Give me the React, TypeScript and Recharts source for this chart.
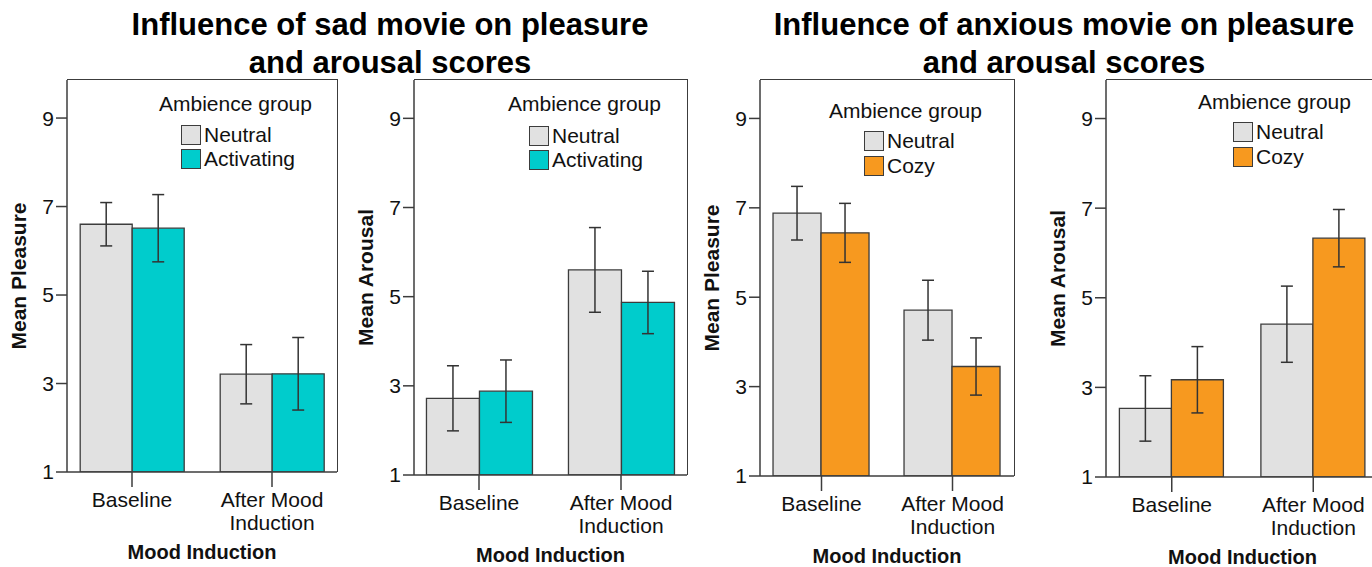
import React from 'react';
import { BarChart, Bar, XAxis, YAxis, ErrorBar, Legend, Text } from 'recharts';

// ---------- data ----------
const categories = ['Baseline', 'After Mood Induction'];
const yTicks = [1, 3, 5, 7, 9];
const seriesOrder = ['neutral', 'group'];

const sadPleasureNeutral = [6.6, 3.21];
const sadPleasureNeutralErr = [0.49, 0.67];
const sadPleasureActivating = [6.51, 3.22];
const sadPleasureActivatingErr = [0.76, 0.82];

const sadArousalNeutral = [2.72, 5.6];
const sadArousalNeutralErr = [0.73, 0.95];
const sadArousalActivating = [2.88, 4.87];
const sadArousalActivatingErr = [0.7, 0.7];

const anxPleasureNeutral = [6.88, 4.71];
const anxPleasureNeutralErr = [0.6, 0.67];
const anxPleasureCozy = [6.44, 3.45];
const anxPleasureCozyErr = [0.66, 0.64];

const anxArousalNeutral = [2.53, 4.41];
const anxArousalNeutralErr = [0.73, 0.85];
const anxArousalCozy = [3.17, 6.33];
const anxArousalCozyErr = [0.74, 0.64];

const legendTitle = 'Ambience group';
const xLabel = 'Mood Induction';
const titleSad = ['Influence of sad movie on pleasure', 'and arousal scores'];
const titleAnx = ['Influence of anxious movie on pleasure', 'and arousal scores'];

// ---------- style ----------
const FONT = '"Liberation Sans", Arial, Helvetica, sans-serif';
const GREY = '#e1e1e1';
const TEAL = '#00cccc';
const ORANGE = '#f7991f';
const LINE = '#3c3c3c';
const TEXT = '#111';

function buildRows(n: number[], ne: number[], g: number[], ge: number[]) {
  return categories.map((c, i) => ({
    category: c,
    neutral: n[i],
    neutralErr: ne[i],
    group: g[i],
    groupErr: ge[i],
  }));
}

const panels = [
  {
    key: 'p1', frameLeft: 67, frameWidth: 270, frameBottom: 472, padL: -5, padR: -5,
    yLabel: 'Mean Pleasure', groupName: 'Activating', groupColor: TEAL,
    rows: buildRows(sadPleasureNeutral, sadPleasureNeutralErr, sadPleasureActivating, sadPleasureActivatingErr),
    legend: { left: 162, top: 92, indent: 22, rowTop: 33, rowGap: 24 },
  },
  {
    key: 'p2', frameLeft: 414, frameWidth: 273, frameBottom: 475, padL: -6, padR: -5,
    yLabel: 'Mean Arousal', groupName: 'Activating', groupColor: TEAL,
    rows: buildRows(sadArousalNeutral, sadArousalNeutralErr, sadArousalActivating, sadArousalActivatingErr),
    legend: { left: 164, top: 92, indent: 21, rowTop: 34, rowGap: 24 },
  },
  {
    key: 'p3', frameLeft: 760, frameWidth: 254, frameBottom: 476, padL: -4, padR: -4,
    yLabel: 'Mean Pleasure', groupName: 'Cozy', groupColor: ORANGE,
    rows: buildRows(anxPleasureNeutral, anxPleasureNeutralErr, anxPleasureCozy, anxPleasureCozyErr),
    legend: { left: 139, top: 99, indent: 35, rowTop: 32, rowGap: 25 },
  },
  {
    key: 'p4', frameLeft: 1106, frameWidth: 273, frameBottom: 477, padL: -5, padR: -5,
    yLabel: 'Mean Arousal', groupName: 'Cozy', groupColor: ORANGE,
    rows: buildRows(anxArousalNeutral, anxArousalNeutralErr, anxArousalCozy, anxArousalCozyErr),
    legend: { left: 162, top: 90, indent: 35, rowTop: 32, rowGap: 25 },
  },
];

function XTick(props: any) {
  const { x, y, payload } = props;
  return (
    <Text
      x={x}
      y={y}
      width={135}
      textAnchor="middle"
      verticalAnchor="start"
      lineHeight="1.1em"
      fontSize={21}
      fontFamily={FONT}
      fill={TEXT}
    >
      {payload.value}
    </Text>
  );
}

function YLabel(props: any) {
  const { viewBox, value } = props;
  const cx = viewBox.x + viewBox.width - 48;
  const cy = viewBox.y + viewBox.height / 2;
  return (
    <text
      x={cx}
      y={cy}
      dy="0.35em"
      transform={`rotate(-90 ${cx} ${cy})`}
      textAnchor="middle"
      fontWeight="bold"
      fontSize={21}
      fontFamily={FONT}
      fill={TEXT}
    >
      {value}
    </text>
  );
}

function XLabel(props: any) {
  const { viewBox, value } = props;
  const cx = viewBox.x + viewBox.width / 2;
  const cy = viewBox.y + 80;
  return (
    <text x={cx} y={cy} dy="0.35em" textAnchor="middle" fontWeight="bold" fontSize={20} fontFamily={FONT} fill={TEXT}>
      {value}
    </text>
  );
}

function makeLegend(cfg: any) {
  return function LegendContent(props: any) {
    const payload = [...(props.payload || [])].sort(
      (a: any, b: any) => seriesOrder.indexOf(a.dataKey) - seriesOrder.indexOf(b.dataKey)
    );
    return (
      <div style={{ position: 'relative', width: 230, height: 90, fontFamily: FONT, fontSize: 21, color: TEXT }}>
        <div style={{ position: 'absolute', left: 0, top: 0, lineHeight: '24px', whiteSpace: 'nowrap' }}>{legendTitle}</div>
        {payload.map((p: any, i: number) => (
          <div
            key={i}
            style={{
              position: 'absolute',
              left: cfg.indent,
              top: cfg.rowTop + i * cfg.rowGap,
              height: 20,
              display: 'flex',
              alignItems: 'center',
              whiteSpace: 'nowrap',
            }}
          >
            <span
              style={{
                display: 'inline-block',
                width: 20,
                height: 20,
                boxSizing: 'border-box',
                background: p.color,
                border: `1.5px solid ${LINE}`,
              }}
            />
            <span style={{ marginLeft: 3, lineHeight: '20px' }}>{p.value}</span>
          </div>
        ))}
      </div>
    );
  };
}

function Panel({ p }: { p: any }) {
  const width = 70 + p.frameWidth + 10;
  const axisLine = { stroke: LINE, strokeWidth: 1.5 };
  return (
    <div style={{ position: 'absolute', left: p.frameLeft - 70, top: 0 }}>
      <BarChart
        width={width}
        height={567}
        data={p.rows}
        margin={{ top: 80, right: 10, bottom: 567 - p.frameBottom - 90, left: 0 }}
        barCategoryGap="13%"
        barGap={0}
      >
        <XAxis
          dataKey="category"
          height={90}
          padding={{ left: p.padL, right: p.padR }}
          axisLine={axisLine}
          tickLine={{ stroke: LINE, strokeWidth: 1.5 }}
          tickSize={15}
          tickMargin={5}
          tick={<XTick />}
          interval={0}
          label={<XLabel value={xLabel} />}
        />
        <YAxis
          domain={[1, 9.86]}
          ticks={yTicks}
          allowDataOverflow
          width={70}
          axisLine={axisLine}
          tickLine={{ stroke: LINE, strokeWidth: 1.5 }}
          tickSize={11}
          tickMargin={2}
          tick={{ fontSize: 21, fill: TEXT, fontFamily: FONT }}
          label={<YLabel value={p.yLabel} />}
        />
        <Legend
          layout="horizontal"
          verticalAlign="middle"
          align="center"
          wrapperStyle={{ left: p.legend.left, top: p.legend.top, width: 230, height: 90 }}
          content={makeLegend(p.legend)}
        />
        <Bar dataKey="neutral" name="Neutral" fill={GREY} stroke={LINE} strokeWidth={1.3} isAnimationActive={false}>
          <ErrorBar dataKey="neutralErr" width={6} stroke="#333" strokeWidth={1.5} direction="y" />
        </Bar>
        <Bar dataKey="group" name={p.groupName} fill={p.groupColor} stroke={LINE} strokeWidth={1.3} isAnimationActive={false}>
          <ErrorBar dataKey="groupErr" width={6} stroke="#333" strokeWidth={1.5} direction="y" />
        </Bar>
      </BarChart>
      {/* top and right edges of the plot frame */}
      <div
        style={{
          position: 'absolute',
          left: 70,
          top: 79.25,
          width: p.frameWidth + 0.75,
          height: p.frameBottom - 79.25,
          boxSizing: 'border-box',
          borderTop: `1.5px solid ${LINE}`,
          borderRight: `1.5px solid ${LINE}`,
          pointerEvents: 'none',
        }}
      />
    </div>
  );
}

function Title({ lines, center }: { lines: string[]; center: number }) {
  return (
    <div
      style={{
        position: 'absolute',
        left: center - 360,
        top: 6,
        width: 720,
        textAlign: 'center',
        fontFamily: FONT,
        fontWeight: 'bold',
        fontSize: 31,
        lineHeight: '38px',
        color: '#000',
        whiteSpace: 'nowrap',
      }}
    >
      {lines.map((l, i) => (
        <div key={i}>{l}</div>
      ))}
    </div>
  );
}

export default function App() {
  return (
    <div
      style={{
        position: 'absolute',
        left: 0,
        top: 0,
        width: 1372,
        height: 567,
        overflow: 'hidden',
        background: '#fff',
      }}
    >
      {panels.map((p) => (
        <Panel key={p.key} p={p} />
      ))}
      <Title lines={titleSad} center={390} />
      <Title lines={titleAnx} center={1064} />
    </div>
  );
}
